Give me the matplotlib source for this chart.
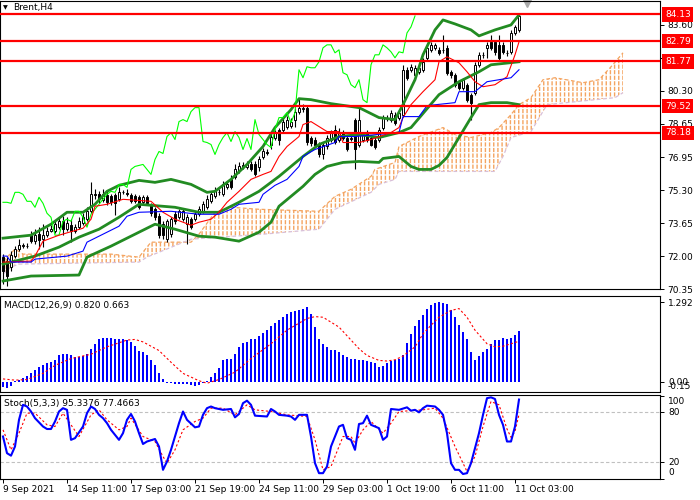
import matplotlib
matplotlib.use("Agg")
import matplotlib.pyplot as plt
import matplotlib.transforms as mtransforms
from matplotlib.patches import Polygon
import numpy as np

plt.rcParams['font.family'] = 'DejaVu Sans'
plt.rcParams['hatch.linewidth'] = 1.0

# ---- Brent H4 candles ----
opens = [71.95, 71.75, 71.45, 72.00, 72.35, 72.50, 72.50, 73.05, 72.75, 73.10,
         72.85, 73.05, 73.25, 73.25, 73.45, 73.75, 73.35, 73.55, 73.25, 73.45,
         73.65, 73.85, 74.25, 75.10, 75.10, 74.80, 75.05, 75.00, 75.05, 74.85,
         75.20, 75.15, 75.05, 75.00, 74.95, 74.70, 74.95, 74.55, 74.35, 74.00,
         73.60, 72.85, 73.10, 74.10, 73.95, 73.85, 73.60, 73.85, 73.85, 74.10,
         74.25, 74.45, 74.75, 75.00, 75.20, 75.10, 75.45, 75.85, 75.95, 76.25,
         76.45, 76.45, 76.60, 76.60, 76.45, 76.95, 77.20, 77.60, 77.95, 78.35,
         78.35, 78.50, 78.55, 78.85, 79.25, 79.40, 79.45, 77.95, 77.85, 77.60,
         77.10, 77.50, 77.85, 78.35, 77.85, 78.20, 77.95, 77.95, 78.85, 77.60,
         77.85, 78.20, 77.95, 77.85, 77.85, 78.45, 78.95, 78.85, 79.10, 78.95,
         79.10, 81.35, 81.35, 81.10, 81.25, 81.35, 81.95, 82.35, 82.45, 82.35,
         82.35, 82.45, 81.25, 81.10, 80.75, 80.45, 80.60, 80.10, 80.20, 81.60,
         82.10, 82.45, 82.75, 82.75, 82.60, 82.60, 82.20, 82.25, 83.20, 83.35]
highs = [72.10, 71.95, 72.25, 72.50, 72.85, 72.65, 72.65, 73.25, 73.35, 73.45,
         73.60, 73.45, 73.55, 73.75, 73.95, 74.00, 73.95, 73.85, 73.60, 73.95,
         74.15, 74.45, 75.70, 75.35, 75.25, 75.35, 75.25, 75.10, 75.15, 75.45,
         75.30, 75.35, 75.15, 75.10, 75.05, 75.05, 75.05, 74.65, 74.45, 74.15,
         73.75, 73.85, 73.95, 74.25, 74.35, 74.40, 74.10, 73.95, 74.25, 74.50,
         74.75, 75.05, 75.25, 75.45, 75.35, 75.75, 75.75, 76.05, 76.60, 76.70,
         76.70, 76.75, 76.75, 76.75, 77.00, 77.40, 77.35, 78.15, 78.35, 78.45,
         78.95, 79.05, 78.95, 79.45, 79.95, 79.65, 79.60, 78.05, 78.00, 77.75,
         77.75, 78.10, 78.35, 78.60, 78.45, 78.35, 78.10, 78.10, 78.95, 79.45,
         78.25, 78.35, 78.10, 78.00, 78.50, 79.10, 79.10, 79.35, 79.25, 79.35,
         81.60, 81.50, 81.65, 81.60, 81.60, 81.95, 82.60, 82.75, 82.70, 82.50,
         83.10, 82.60, 81.35, 81.20, 80.85, 80.95, 80.70, 80.20, 81.75, 82.25,
         82.25, 82.75, 83.10, 82.85, 83.10, 82.75, 82.35, 83.35, 83.60, 84.13]
lows = [70.60, 70.50, 71.25, 71.90, 72.25, 72.40, 72.40, 72.65, 72.60, 72.35,
        72.45, 72.95, 73.20, 73.15, 73.35, 73.05, 73.25, 72.70, 73.15, 73.35,
        73.55, 73.75, 74.15, 74.85, 74.65, 74.70, 74.55, 74.55, 74.05, 74.75,
        75.10, 75.00, 74.65, 74.65, 74.35, 74.60, 74.55, 74.00, 73.80, 72.90,
        72.85, 72.70, 72.95, 73.60, 73.85, 73.75, 72.60, 73.35, 73.75, 74.00,
        74.15, 74.35, 74.65, 74.90, 75.05, 75.00, 75.35, 75.35, 75.85, 76.15,
        76.35, 76.35, 76.25, 76.00, 76.25, 76.85, 77.05, 77.35, 77.85, 77.60,
        78.25, 78.40, 78.45, 78.50, 79.15, 79.25, 77.60, 77.50, 77.45, 76.95,
        76.85, 77.35, 77.75, 77.65, 77.75, 77.85, 77.25, 77.80, 76.35, 77.45,
        77.75, 77.75, 77.50, 77.35, 77.75, 78.35, 78.80, 78.75, 78.60, 78.85,
        79.00, 80.85, 81.25, 81.00, 81.15, 81.25, 81.85, 82.25, 82.35, 82.10,
        82.20, 81.10, 80.95, 80.50, 80.35, 80.35, 79.75, 78.85, 80.10, 81.50,
        81.95, 81.95, 82.35, 82.10, 81.85, 82.15, 82.05, 82.15, 83.10, 83.25]
closes = [71.25, 71.00, 72.05, 72.35, 72.55, 72.55, 72.50, 72.75, 73.05, 72.80,
          73.05, 73.25, 73.35, 73.60, 73.75, 73.35, 73.65, 73.25, 73.45, 73.75,
          73.95, 74.25, 75.10, 75.05, 74.85, 75.10, 74.70, 74.70, 74.65, 75.20,
          75.20, 75.10, 74.75, 74.75, 74.45, 74.95, 74.65, 74.15, 73.95, 73.05,
          73.05, 73.75, 73.85, 73.75, 74.25, 74.25, 73.95, 73.45, 74.10, 74.35,
          74.60, 74.85, 75.10, 75.25, 75.20, 75.60, 75.60, 75.45, 76.35, 76.50,
          76.55, 76.60, 76.35, 76.10, 76.85, 77.25, 77.15, 78.00, 78.20, 77.85,
          78.75, 78.85, 78.75, 79.25, 79.45, 79.45, 77.75, 77.70, 77.60, 77.10,
          77.60, 77.95, 78.20, 77.75, 78.25, 77.95, 77.35, 77.90, 77.35, 78.85,
          78.10, 77.85, 77.60, 77.45, 78.35, 78.95, 78.95, 79.20, 78.70, 79.20,
          81.35, 80.95, 81.50, 81.45, 81.45, 81.75, 82.45, 82.60, 82.60, 82.20,
          82.35, 81.20, 81.10, 80.60, 80.45, 80.85, 79.85, 79.70, 81.60, 82.10,
          82.10, 82.60, 82.45, 82.25, 81.95, 82.25, 82.20, 83.20, 83.50, 84.05]

# ---- Bollinger bands (bar, price) ----
bb_up_bars = [0, 7, 12, 16, 20, 23, 26, 29, 34, 38, 42, 47, 51, 53, 57, 61, 65, 68,
              72, 74, 77, 82, 89, 94, 98, 100, 103, 105, 108, 110, 113, 117, 119, 123, 127, 129]
bb_up = [72.90, 73.05, 73.60, 74.20, 74.20, 74.60, 75.25, 75.55, 75.80, 75.70, 75.85, 75.60,
         75.20, 75.25, 75.85, 76.60, 77.50, 78.45, 79.35, 79.90, 79.85, 79.65, 79.45, 78.95,
         78.85, 79.60, 80.85, 82.10, 83.35, 83.85, 83.65, 83.35, 83.05, 83.35, 83.60, 84.10]
bb_mid_bars = [0, 8, 14, 19, 24, 29, 34, 43, 49, 54, 59, 64, 69, 75, 79, 84, 89, 94, 99,
               102, 109, 114, 119, 122, 129]
bb_mid = [71.60, 72.00, 72.45, 72.95, 73.35, 73.95, 74.60, 74.45, 74.20, 74.20, 74.70, 75.25,
          76.00, 77.00, 77.60, 78.00, 78.10, 77.95, 78.20, 78.45, 80.10, 80.75, 81.25, 81.60, 81.75]
bb_low_bars = [0, 7, 19, 21, 27, 32, 38, 43, 49, 53, 59, 64, 67, 69, 75, 78, 81, 85, 89, 94,
               95, 99, 102, 104, 107, 109, 111, 114, 117, 119, 122, 126, 129]
bb_low = [70.75, 71.00, 71.05, 71.95, 72.50, 73.00, 73.60, 73.35, 73.00, 72.95, 72.75, 73.20,
          73.70, 74.50, 75.50, 76.10, 76.50, 76.70, 76.75, 76.70, 76.90, 77.00, 76.50, 76.35,
          76.35, 76.55, 76.95, 77.95, 78.95, 79.60, 79.70, 79.70, 79.60]

# ---- Ichimoku: tenkan (red), kijun (blue), senkou spans (cloud) ----
tenkan_bars = [0, 7, 8, 10, 14, 20, 22, 23, 26, 30, 37, 40, 43, 47, 49, 52, 54, 56, 59, 62,
               65, 67, 69, 71, 74, 75, 77, 79, 81, 84, 85, 89, 92, 97, 99, 100, 102, 105, 108,
               109, 111, 114, 116, 118, 120, 123, 126, 128, 129]
tenkan = [71.70, 71.75, 72.00, 72.75, 73.05, 73.40, 73.85, 74.50, 74.60, 74.85, 74.75, 74.20,
          73.85, 73.55, 73.70, 73.85, 74.20, 74.70, 75.25, 75.85, 76.10, 76.25, 77.00, 77.50,
          78.00, 78.60, 78.75, 78.50, 78.25, 78.25, 77.70, 77.70, 77.85, 78.20, 78.45, 78.95,
          79.60, 80.25, 80.85, 81.75, 82.00, 81.70, 81.25, 80.75, 80.50, 80.60, 81.00, 82.10, 82.75]
kijun_bars = [0, 1, 2, 7, 8, 16, 20, 21, 24, 29, 31, 34, 42, 49, 54, 57, 59, 64, 65, 68, 71,
              74, 75, 78, 83, 84, 88, 99, 100, 104, 106, 113, 114, 118, 121, 124, 127, 129]
kijun = [72.00, 72.00, 71.70, 71.70, 71.85, 72.00, 72.25, 72.70, 73.00, 73.50, 74.00, 74.20,
         74.25, 74.10, 74.10, 74.35, 74.60, 74.70, 75.10, 75.55, 75.85, 76.50, 77.00, 77.35,
         77.70, 78.00, 78.00, 78.20, 79.00, 79.00, 79.55, 79.70, 80.25, 80.25, 80.75, 80.85,
         80.95, 81.35]
span_a_bars = [0, 3, 5, 27, 34, 37, 47, 49, 53, 57, 64, 79, 83, 87, 92, 93, 98, 99, 104, 110,
               113, 117, 122, 124, 127, 129, 132, 135, 138, 145, 149, 152, 155]
span_a = [71.75, 72.35, 72.10, 72.10, 71.95, 72.70, 72.70, 73.10, 74.20, 74.45, 74.35, 74.25,
          75.00, 75.35, 76.00, 76.35, 76.70, 77.50, 78.00, 78.45, 78.10, 77.95, 78.20, 78.45,
          79.10, 79.60, 79.95, 80.85, 80.95, 80.70, 80.85, 81.50, 82.20]
span_b_bars = [0, 2, 4, 34, 36, 47, 65, 79, 83, 92, 94, 98, 99, 123, 125, 127, 132, 136, 153, 155]
span_b = [71.10, 71.45, 71.60, 71.70, 71.95, 72.85, 73.10, 73.35, 74.35, 75.20, 75.60, 75.85,
          76.25, 76.25, 77.00, 77.95, 78.25, 79.60, 79.95, 80.20]
chikou_shift = 26

# ---- horizontal levels ----
levels = [84.13, 82.79, 81.77, 79.52, 78.18]
price_ticks = [83.60, 81.95, 80.30, 78.65, 76.95, 75.30, 73.65, 72.00, 70.35]

# ---- MACD(12,26,9) ----
macd_hist = [-0.08, -0.09, -0.06, 0.02, 0.04, 0.06, 0.09, 0.14, 0.19, 0.24,
             0.27, 0.30, 0.33, 0.36, 0.43, 0.45, 0.45, 0.43, 0.41, 0.41,
             0.42, 0.46, 0.53, 0.62, 0.69, 0.71, 0.72, 0.72, 0.70, 0.69,
             0.69, 0.68, 0.65, 0.59, 0.51, 0.48, 0.43, 0.36, 0.27, 0.14,
             0.05, -0.01, -0.02, -0.03, -0.03, -0.04, -0.03, -0.05, -0.07, -0.05,
             -0.02, 0.02, 0.08, 0.15, 0.23, 0.36, 0.37, 0.38, 0.46, 0.57,
             0.63, 0.65, 0.69, 0.69, 0.74, 0.80, 0.84, 0.90, 0.96, 1.00,
             1.06, 1.11, 1.14, 1.15, 1.17, 1.19, 1.21, 1.10, 0.89, 0.70,
             0.62, 0.56, 0.52, 0.52, 0.49, 0.44, 0.41, 0.38, 0.37, 0.36,
             0.36, 0.34, 0.32, 0.31, 0.25, 0.26, 0.31, 0.34, 0.35, 0.38,
             0.43, 0.63, 0.78, 0.90, 1.00, 1.09, 1.19, 1.25, 1.28, 1.29,
             1.28, 1.26, 1.16, 1.05, 0.93, 0.81, 0.69, 0.49, 0.36, 0.42,
             0.49, 0.54, 0.61, 0.68, 0.68, 0.71, 0.69, 0.72, 0.76, 0.82]
macd_sig_bars = [0, 3, 6, 10, 13, 17, 22, 26, 31, 33, 35, 39, 42, 45, 49, 51, 54, 58, 62, 67,
                 71, 76, 78, 80, 84, 87, 89, 91, 94, 96, 98, 100, 103, 105, 107, 109, 112, 114,
                 116, 118, 121, 123, 125, 127, 129]
macd_sig = [0.05, 0.03, 0.04, 0.14, 0.27, 0.38, 0.45, 0.57, 0.68, 0.69, 0.65, 0.51, 0.32, 0.14,
            0.02, -0.02, 0.04, 0.16, 0.38, 0.62, 0.84, 1.03, 1.06, 1.05, 0.89, 0.68, 0.54, 0.43,
            0.35, 0.34, 0.36, 0.42, 0.57, 0.78, 0.92, 1.05, 1.16, 1.19, 1.05, 0.84, 0.62, 0.57,
            0.58, 0.62, 0.66]

# ---- Stochastic(5,3,3) ----
st_bars = [0, 1, 2, 3, 4, 5, 6, 7, 8, 10, 11, 12, 13, 14, 15, 16, 17, 18, 20, 21, 22, 23, 24,
           25, 26, 27, 29, 30, 31, 32, 33, 34, 35, 36, 38, 39, 40, 41, 42, 43, 44, 45, 46, 48,
           49, 50, 51, 52, 53, 55, 57, 58, 59, 60, 61, 62, 63, 66, 67, 68, 69, 71, 72, 73, 74,
           76, 77, 78, 79, 80, 81, 82, 84, 85, 86, 87, 88, 89, 90, 91, 92, 94, 95, 96, 97, 99,
           101, 102, 103, 104, 105, 106, 108, 109, 110, 111, 112, 113, 114, 115, 116, 117, 119,
           120, 121, 122, 123, 124, 125, 126, 127, 128, 129]
st_main = [51, 31, 28, 39, 71, 89, 87, 81, 73, 63, 60, 60, 69, 81, 85, 83, 47, 49, 63, 79, 87,
           84, 77, 73, 67, 59, 47, 55, 71, 78, 69, 55, 42, 45, 48, 39, 11, 21, 35, 51, 67, 81,
           71, 62, 63, 77, 85, 87, 85, 83, 84, 74, 78, 91, 94, 89, 76, 75, 84, 81, 77, 76, 75,
           71, 77, 77, 51, 19, 7, 7, 15, 39, 63, 65, 49, 47, 35, 66, 67, 76, 65, 61, 47, 51, 84,
           83, 86, 82, 83, 80, 85, 88, 87, 83, 77, 55, 19, 11, 11, 6, 7, 19, 55, 77, 97, 98, 96,
           77, 65, 45, 45, 63, 95.34]
st_sig_bars = [0, 2, 4, 6, 8, 11, 13, 15, 17, 19, 22, 24, 26, 29, 31, 32, 35, 38, 40, 41, 43,
               45, 48, 50, 52, 55, 58, 61, 63, 67, 71, 76, 78, 80, 82, 85, 87, 88, 90, 92, 95,
               97, 99, 105, 108, 110, 113, 116, 118, 120, 122, 124, 126, 127, 128, 129]
st_sig = [59, 35, 55, 79, 79, 65, 63, 79, 65, 51, 77, 83, 71, 59, 63, 73, 51, 45, 27, 19, 35,
          59, 69, 73, 85, 85, 77, 89, 83, 81, 77, 75, 47, 11, 15, 51, 51, 43, 59, 69, 55, 67,
          81, 83, 85, 73, 39, 9, 27, 63, 93, 89, 60, 50, 57, 77.47]

time_tick_bars = [0, 16, 32, 48, 64, 80, 96, 112, 128]
time_tick_labels = ['9 Sep 2021', '14 Sep 11:00', '17 Sep 03:00', '21 Sep 19:00', '24 Sep 11:00',
                    '29 Sep 03:00', '1 Oct 19:00', '6 Oct 11:00', '11 Oct 03:00']

# ---------------------------------------------------------------
W, H = 700.0, 500.0
fig = plt.figure(figsize=(7, 5), dpi=100, facecolor='white')


def add_panel(top, bottom):
    # panel box given in pixels from the top of the picture
    return fig.add_axes([0, 1 - bottom / H, 660 / W, (bottom - top) / H])


ax = add_panel(1, 289)
ax_macd = add_panel(296, 392)
ax_st = add_panel(395, 479)

fs = 6.5
for a in (ax, ax_macd, ax_st):
    a.set_xlim(-0.75, 164.25)
    for s in a.spines.values():
        s.set_linewidth(0.8)
        s.set_color('black')
    a.yaxis.tick_right()
    a.tick_params(axis='y', length=3, width=0.7, labelsize=fs, pad=2)
    a.tick_params(axis='x', bottom=False, labelbottom=False)

n = len(closes)
x = np.arange(n)
o = np.array(opens)
c = np.array(closes)

# --- main chart ---
ax.set_ylim(70.40, 84.80)

# cloud: vertical dashes between the two senkou spans
cloud = list(zip(span_a_bars, span_a)) + list(zip(span_b_bars[::-1], span_b[::-1]))
ax.add_patch(Polygon(cloud, closed=True, facecolor='none', edgecolor='#F4A460',
                     hatch='||||', lw=0, zorder=1))
ax.add_patch(Polygon(cloud, closed=True, facecolor='none', edgecolor='white',
                     hatch='---', lw=0, zorder=1.1))
ax.plot(span_a_bars, span_a, color='#F4A460', lw=0.9, ls=(0, (3, 2)), zorder=1.2)
ax.plot(span_b_bars, span_b, color='#D8BFD8', lw=0.9, ls=(0, (3, 2)), zorder=1.2)

ax.vlines(x, lows, highs, color='black', lw=0.8, zorder=3)
up = c >= o
ax.bar(x, c - o, bottom=o, width=0.62, color=np.where(up, 'white', 'black'),
       edgecolor='black', lw=0.7, zorder=3.5)

ax.plot(bb_up_bars, bb_up, color='#228B22', lw=2.0, zorder=4)
ax.plot(bb_mid_bars, bb_mid, color='#228B22', lw=2.0, zorder=4)
ax.plot(bb_low_bars, bb_low, color='#228B22', lw=2.0, zorder=4)
ax.plot(tenkan_bars, tenkan, color='#FF0000', lw=0.8, zorder=4.2)
ax.plot(kijun_bars, kijun, color='#0000FF', lw=0.8, zorder=4.2)
ax.plot(x[:n - chikou_shift], closes[chikou_shift:], color='#00FF00', lw=0.8, zorder=4.1)

for v in levels:
    ax.axhline(v, color='#FF0000', lw=1.6, zorder=6)
    ax.text(1.0076, v, f'{v:.2f}', transform=ax.get_yaxis_transform(), color='white',
            fontsize=fs, va='center', ha='left', clip_on=False, zorder=7,
            bbox=dict(boxstyle='square,pad=0.3', fc='#FF0000', ec='none'))

ax.set_yticks(price_ticks)
ax.set_yticklabels([f'{t:.2f}' for t in price_ticks])

ax.text(0.005, 0.977, '\u25bc', transform=ax.transAxes, fontsize=4.5, va='center', ha='left')
ax.text(0.02, 0.977, 'Brent,H4', transform=ax.transAxes, fontsize=fs, va='center', ha='left')
shift_tr = mtransforms.blended_transform_factory(ax.transData, ax.transAxes)
ax.plot([131], [0.992], marker='v', ms=6, color='#A9A9A9', transform=shift_tr, clip_on=False)

# --- MACD ---
ax_macd.set_ylim(-0.162, 1.394)
ax_macd.bar(x, macd_hist, width=0.65, color='#0000FF', lw=0, zorder=2)
ax_macd.plot(macd_sig_bars, macd_sig, color='#FF0000', lw=0.8, ls=(0, (2, 2)), zorder=3)
ax_macd.set_yticks([1.292, 0.0])
ax_macd.set_yticklabels([])
ytr = ax_macd.get_yaxis_transform()
ax_macd.text(1.012, 1.28, '1.292', transform=ytr, fontsize=fs, va='center', ha='left', clip_on=False)
ax_macd.text(1.012, 0.0, '0.00', transform=ytr, fontsize=fs, va='center', ha='left', clip_on=False)
ax_macd.text(1.012, -0.08, '-0.15', transform=ytr, fontsize=fs, va='center', ha='left', clip_on=False)
ax_macd.text(0.006, 0.9, 'MACD(12,26,9) 0.820 0.663', transform=ax_macd.transAxes,
             fontsize=fs, va='center', ha='left', zorder=1)

# --- Stochastic ---
ax_st.set_ylim(0, 100.8)
for lv in (20, 80):
    ax_st.axhline(lv, color='#C0C0C0', lw=0.8, ls=(0, (3, 2)), zorder=1)
ax_st.plot(st_sig_bars, st_sig, color='#FF0000', lw=0.8, ls=(0, (2, 2)), zorder=3)
ax_st.plot(st_bars, st_main, color='#0000FF', lw=1.5, zorder=4)
ax_st.set_yticks([100, 80, 20, 0])
ax_st.set_yticklabels([])
ytr = ax_st.get_yaxis_transform()
for val, pos in zip(['100', '80', '20', '0'], [93.5, 80, 20, 7.5]):
    ax_st.text(1.012, pos, val, transform=ytr, fontsize=fs, va='center', ha='left', clip_on=False)
ax_st.text(0.006, 0.9, 'Stoch(5,3,3) 95.3376 77.4663', transform=ax_st.transAxes,
           fontsize=fs, va='center', ha='left', zorder=2)

ax_st.set_xticks(time_tick_bars)
ax_st.set_xticklabels(time_tick_labels)
ax_st.tick_params(axis='x', bottom=True, labelbottom=True, length=3, width=0.7,
                  labelsize=fs, pad=1)
for lab in ax_st.get_xticklabels():
    lab.set_ha('left')

fig.savefig('out.png', dpi=100, facecolor='white')
